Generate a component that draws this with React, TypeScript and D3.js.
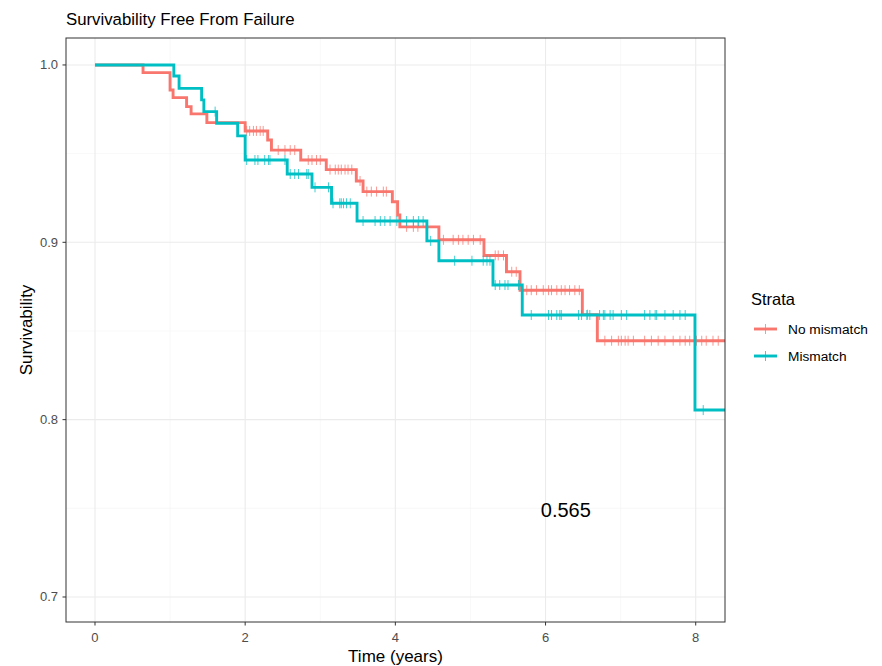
import * as d3 from "d3";

// Kaplan-Meier steps
const redTimes = [0, 0.64, 1.0, 1.04, 1.22, 1.28, 1.49, 2.0, 2.3, 2.35, 2.74, 3.08, 3.48, 3.57, 3.96, 4.03, 4.06, 4.58, 5.18, 5.48, 5.66, 6.49, 6.69];
const redSurv = [1.0, 0.9957, 0.9859, 0.9816, 0.9765, 0.9724, 0.9675, 0.9628, 0.9577, 0.952, 0.9464, 0.941, 0.9346, 0.9286, 0.9229, 0.9154, 0.9087, 0.9014, 0.8926, 0.8834, 0.873, 0.8592, 0.8445];
const tealTimes = [0, 1.05, 1.12, 1.42, 1.45, 1.62, 1.9, 2.0, 2.56, 2.89, 3.15, 3.49, 4.42, 4.58, 5.3, 5.69, 7.99];
const tealSurv = [1.0, 0.9938, 0.9868, 0.9803, 0.9737, 0.9671, 0.96, 0.9464, 0.9385, 0.931, 0.922, 0.912, 0.9008, 0.8896, 0.8759, 0.859, 0.8054];

const redCensor = [2.02, 2.06, 2.11, 2.15, 2.2, 2.24, 2.44, 2.53, 2.6, 2.66, 2.84, 2.89, 2.95, 3.0, 3.13, 3.2, 3.24, 3.28, 3.33, 3.37, 3.42, 3.53, 3.62, 3.68, 3.75, 3.84, 3.88, 4.15, 4.24, 4.3, 4.64, 4.77, 4.84, 4.9, 4.97, 5.04, 5.13, 5.33, 5.37, 5.44, 5.55, 5.61, 5.75, 5.81, 5.88, 5.97, 6.04, 6.08, 6.15, 6.21, 6.26, 6.32, 6.39, 6.45, 6.56, 6.79, 6.88, 6.97, 7.01, 7.06, 7.1, 7.17, 7.32, 7.41, 7.5, 7.59, 7.7, 7.79, 7.86, 7.92, 8.01, 8.08, 8.14, 8.23, 8.3];
const tealCensor = [1.6, 2.02, 2.13, 2.17, 2.26, 2.31, 2.33, 2.53, 2.6, 2.66, 2.71, 2.82, 2.84, 2.93, 3.11, 3.17, 3.26, 3.28, 3.31, 3.35, 3.4, 3.57, 3.73, 3.8, 3.86, 3.93, 4.02, 4.15, 4.24, 4.31, 4.37, 4.47, 4.79, 5.02, 5.17, 5.22, 5.26, 5.33, 5.39, 5.46, 5.5, 5.64, 5.81, 6.04, 6.08, 6.15, 6.19, 6.21, 6.44, 6.48, 6.55, 6.59, 6.72, 6.77, 6.79, 6.86, 6.9, 7.01, 7.08, 7.32, 7.39, 7.46, 7.48, 7.59, 7.7, 7.79, 7.86, 8.1];

const xTicks = [0, 2, 4, 6, 8];
const xMinor = [1, 3, 5, 7];
const yTicks = [0.7, 0.8, 0.9, 1.0];
const yMinor = [0.75, 0.85, 0.95];
const strata = ["No mismatch", "Mismatch"];
const colors = ["#F8766D", "#00BFC4"];
const pValue = "0.565";

const W = 882;
const H = 666;
const panel = { left: 66, right: 725, top: 38, bottom: 622 };
const font = "'Liberation Sans', Arial, sans-serif";

const x = d3.scaleLinear().domain([-0.386, 8.39]).range([panel.left, panel.right]);
const y = d3.scaleLinear().domain([0.6859, 1.0152]).range([panel.bottom, panel.top]);

function survAt(times: number[], surv: number[], t: number) {
  const i = d3.bisectRight(times, t) - 1;
  return surv[Math.max(0, i)];
}

const lineGen = d3
  .line<[number, number]>()
  .x((d) => x(d[0]))
  .y((d) => y(d[1]))
  .curve(d3.curveStepAfter);

const series = [
  { times: redTimes, surv: redSurv, censor: redCensor },
  { times: tealTimes, surv: tealSurv, censor: tealCensor },
];

export default function App() {
  const xEnd = x.domain()[1];
  return (
    <svg width={W} height={H} style={{ position: "absolute", left: 0, top: 0, background: "#fff" }} fontFamily={font}>
      <rect width={W} height={H} fill="#fff" />
      {/* grid */}
      {xMinor.map((t) => (
        <line key={"xm" + t} x1={x(t)} x2={x(t)} y1={panel.top} y2={panel.bottom} stroke="#F2F2F2" strokeWidth={0.55} />
      ))}
      {yMinor.map((v) => (
        <line key={"ym" + v} y1={y(v)} y2={y(v)} x1={panel.left} x2={panel.right} stroke="#F2F2F2" strokeWidth={0.55} />
      ))}
      {xTicks.map((t) => (
        <line key={"xg" + t} x1={x(t)} x2={x(t)} y1={panel.top} y2={panel.bottom} stroke="#EBEBEB" strokeWidth={1.1} />
      ))}
      {yTicks.map((v) => (
        <line key={"yg" + v} y1={y(v)} y2={y(v)} x1={panel.left} x2={panel.right} stroke="#EBEBEB" strokeWidth={1.1} />
      ))}

      <defs>
        <clipPath id="panelClip">
          <rect x={panel.left} y={panel.top} width={panel.right - panel.left} height={panel.bottom - panel.top} />
        </clipPath>
      </defs>

      <g clipPath="url(#panelClip)">
        {series.map((s, k) => {
          const pts: [number, number][] = s.times.map((t, i) => [t, s.surv[i]]);
          pts.push([xEnd, s.surv[s.surv.length - 1]]);
          return (
            <g key={k}>
              <path d={lineGen(pts) || ""} fill="none" stroke={colors[k]} strokeWidth={2.9} />
              {s.censor.map((t, i) => {
                const cx = x(t);
                const cy = y(survAt(s.times, s.surv, t));
                return (
                  <line key={i} x1={cx} x2={cx} y1={cy - 5} y2={cy + 5} stroke={colors[k]} strokeWidth={1} opacity={0.75} />
                );
              })}
            </g>
          );
        })}
      </g>

      <text x={x(6.27)} y={y(0.749)} fontSize={20} textAnchor="middle" dominantBaseline="central" fill="#000">
        {pValue}
      </text>

      <rect x={panel.left} y={panel.top} width={panel.right - panel.left} height={panel.bottom - panel.top} fill="none" stroke="#333" strokeWidth={1} />

      {/* axes */}
      {xTicks.map((t) => (
        <g key={"xt" + t}>
          <line x1={x(t)} x2={x(t)} y1={panel.bottom} y2={panel.bottom + 3.5} stroke="#333" strokeWidth={1} />
          <text x={x(t)} y={panel.bottom + 19.5} fontSize={13} fill="#4D4D4D" textAnchor="middle">
            {t}
          </text>
        </g>
      ))}
      {yTicks.map((v) => (
        <g key={"yt" + v}>
          <line x1={panel.left - 3.5} x2={panel.left} y1={y(v)} y2={y(v)} stroke="#333" strokeWidth={1} />
          <text x={panel.left - 8} y={y(v)} fontSize={13} fill="#4D4D4D" textAnchor="end" dominantBaseline="central">
            {d3.format(".1f")(v)}
          </text>
        </g>
      ))}

      <text x={(panel.left + panel.right) / 2} y={662} fontSize={17} textAnchor="middle" fill="#000">
        Time (years)
      </text>
      <text transform={`translate(31.5,${(panel.top + panel.bottom) / 2}) rotate(-90)`} fontSize={17} textAnchor="middle" fill="#000">
        Survivability
      </text>

      <text x={66} y={24.5} fontSize={16.8} fill="#000">
        Survivability Free From Failure
      </text>

      {/* legend */}
      <text x={751} y={305} fontSize={16.5} fill="#000">
        Strata
      </text>
      {strata.map((name, i) => {
        const ly = 329 + i * 27;
        return (
          <g key={name}>
            <line x1={754} x2={777} y1={ly} y2={ly} stroke={colors[i]} strokeWidth={2.9} />
            <line x1={765.5} x2={765.5} y1={ly - 5} y2={ly + 5} stroke={colors[i]} strokeWidth={1} opacity={0.75} />
            <text x={788} y={ly + 4.5} fontSize={13.7} fill="#000">
              {name}
            </text>
          </g>
        );
      })}
    </svg>
  );
}
